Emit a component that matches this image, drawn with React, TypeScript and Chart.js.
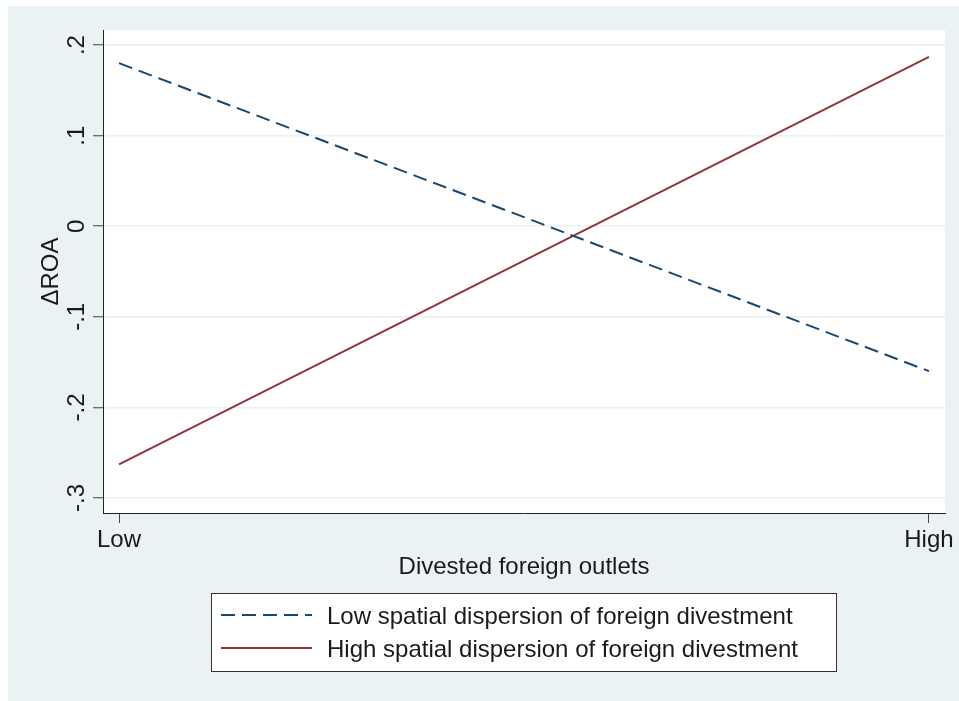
import React, { useEffect, useRef } from "react";
import { Chart, registerables } from "chart.js";

Chart.register(...registerables);

// ---- Data ----
const categories = ["Low", "High"];
const xPositions = [0, 1];
const lowDispersion = [0.18, -0.16];
const highDispersion = [-0.263, 0.187];
const yTicks = [0.2, 0.1, 0, -0.1, -0.2, -0.3];
const yTickLabels = [".2", ".1", "0", "-.1", "-.2", "-.3"];
const seriesLabels = [
  "Low spatial dispersion of foreign divestment",
  "High spatial dispersion of foreign divestment",
];
const xTitle = "Divested foreign outlets";
const yTitle = "\u0394ROA";

const FONT = '24px "Liberation Sans", Arial, Helvetica, sans-serif';
const TEXT = "#1a1a1a";
const BG = "#eaf2f3";
const NAVY = "#1a476f";
const MAROON = "#90353b";

const decorPlugin = {
  id: "decor",
  beforeDraw(chart: any) {
    const { ctx, width, height, chartArea } = chart;
    ctx.save();
    ctx.fillStyle = "#ffffff";
    ctx.fillRect(0, 0, width, height);
    ctx.fillStyle = BG;
    ctx.fillRect(8, 6, width - 8, height - 6);
    ctx.fillStyle = "#ffffff";
    ctx.fillRect(chartArea.left, chartArea.top, chartArea.right - chartArea.left, chartArea.bottom - chartArea.top);
    ctx.restore();
  },
  afterDraw(chart: any) {
    const { ctx, chartArea } = chart;
    const xs = chart.scales.x;
    const ys = chart.scales.y;
    ctx.save();
    ctx.font = FONT;
    ctx.fillStyle = TEXT;
    ctx.textBaseline = "alphabetic";
    ctx.textAlign = "center";

    // y tick labels (rotated)
    yTicks.forEach((v, i) => {
      const py = ys.getPixelForValue(v);
      ctx.save();
      ctx.translate(84, py);
      ctx.rotate(-Math.PI / 2);
      ctx.fillText(yTickLabels[i], 0, 0);
      ctx.restore();
    });

    // y title
    ctx.save();
    ctx.translate(57.5, (chartArea.top + chartArea.bottom) / 2);
    ctx.rotate(-Math.PI / 2);
    ctx.fillText(yTitle, 0, 0);
    ctx.restore();

    // x tick labels
    xPositions.forEach((v, i) => {
      ctx.fillText(categories[i], xs.getPixelForValue(v), 547);
    });

    // x title
    ctx.fillText(xTitle, (chartArea.left + chartArea.right) / 2, 574);

    // legend
    const lx = 211.5, ly = 593.5, lw = 625, lh = 78;
    ctx.fillStyle = "#ffffff";
    ctx.fillRect(lx, ly, lw, lh);
    ctx.strokeStyle = "#333333";
    ctx.lineWidth = 1;
    ctx.strokeRect(lx, ly, lw, lh);

    const rows = [
      { y: 615, color: NAVY, dash: [14, 7] },
      { y: 648, color: MAROON, dash: [] as number[] },
    ];
    rows.forEach((r, i) => {
      ctx.beginPath();
      ctx.setLineDash(r.dash);
      ctx.strokeStyle = r.color;
      ctx.lineWidth = 2;
      ctx.moveTo(221, r.y);
      ctx.lineTo(312, r.y);
      ctx.stroke();
      ctx.setLineDash([]);
      ctx.fillStyle = TEXT;
      ctx.textAlign = "left";
      ctx.fillText(seriesLabels[i], 327, r.y + 8.5);
    });
    ctx.restore();
  },
};

export default function App() {
  const ref = useRef<HTMLCanvasElement | null>(null);

  useEffect(() => {
    if (!ref.current) return;
    const chart = new Chart(ref.current, {
      type: "line",
      data: {
        datasets: [
          {
            label: seriesLabels[0],
            data: xPositions.map((x, i) => ({ x, y: lowDispersion[i] })),
            borderColor: NAVY,
            borderWidth: 2,
            borderDash: [14, 7],
            pointRadius: 0,
            fill: false,
          },
          {
            label: seriesLabels[1],
            data: xPositions.map((x, i) => ({ x, y: highDispersion[i] })),
            borderColor: MAROON,
            borderWidth: 2,
            pointRadius: 0,
            fill: false,
          },
        ],
      },
      options: {
        animation: false,
        responsive: false,
        devicePixelRatio: 1,
        layout: { padding: { top: 30, right: 14, left: 0, bottom: 0 } },
        plugins: { legend: { display: false }, tooltip: { enabled: false } },
        scales: {
          x: {
            type: "linear",
            min: -0.0198,
            max: 1.0198,
            afterBuildTicks: (s: any) => {
              s.ticks = xPositions.map((v) => ({ value: v }));
            },
            afterFit: (s: any) => {
              s.height = 188;
            },
            ticks: { display: false },
            grid: {
              drawOnChartArea: false,
              drawTicks: true,
              tickLength: 10,
              tickColor: "#444",
              tickWidth: 1,
            },
            border: { display: true, color: "#222", width: 1 },
          },
          y: {
            type: "linear",
            min: -0.3166,
            max: 0.2166,
            afterBuildTicks: (s: any) => {
              s.ticks = yTicks.map((v) => ({ value: v }));
            },
            afterFit: (s: any) => {
              s.width = 103;
            },
            ticks: { display: false },
            grid: {
              color: BG,
              lineWidth: 1.5,
              drawTicks: true,
              tickLength: 10,
              tickColor: "#444",
              tickWidth: 1,
            },
            border: { display: true, color: "#222", width: 1 },
          },
        },
      },
      plugins: [decorPlugin],
    } as any);
    return () => chart.destroy();
  }, []);

  return (
    <canvas
      ref={ref}
      width={959}
      height={701}
      style={{ position: "fixed", left: 0, top: 0, width: 959, height: 701 }}
    />
  );
}
